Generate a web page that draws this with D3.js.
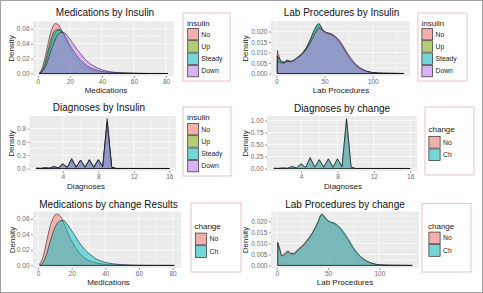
<!DOCTYPE html>
<html>
<head>
<meta charset="utf-8">
<script src="https://cdn.jsdelivr.net/npm/d3@7"></script>
<style>
  body { margin: 0; background: #fff; }
  svg { display: block; }
  text { font-family: "Liberation Sans", Arial, sans-serif; }
</style>
</head>
<body>
<svg id="chart" width="483" height="293"></svg>
<script>
// ---- data ----
var insulinLevels = ["No", "Up", "Steady", "Down"];
var changeLevels = ["No", "Ch"];

var medX = [1, 3, 5, 7, 9, 11, 13, 15, 17, 19, 22, 25, 28, 31, 35, 40, 45, 50, 55, 60, 65, 70, 75, 81];
var medInsulinNo     = [0.001, 0.009, 0.026, 0.046, 0.061, 0.067, 0.065, 0.057, 0.047, 0.037, 0.025, 0.016, 0.010, 0.006, 0.003, 0.0015, 0.0007, 0.0003, 0.0002, 0.0001, 0, 0, 0, 0];
var medInsulinUp     = [0.000, 0.004, 0.014, 0.030, 0.045, 0.055, 0.058, 0.056, 0.050, 0.042, 0.031, 0.022, 0.015, 0.010, 0.006, 0.003, 0.0015, 0.0008, 0.0004, 0.0002, 0.0001, 0.0001, 0.0001, 0];
var medInsulinSteady = [0.000, 0.005, 0.018, 0.036, 0.051, 0.058, 0.059, 0.057, 0.050, 0.041, 0.030, 0.021, 0.014, 0.009, 0.005, 0.0025, 0.0012, 0.0006, 0.0003, 0.0002, 0.0001, 0, 0, 0];
var medInsulinDown   = [0.000, 0.003, 0.010, 0.022, 0.035, 0.046, 0.053, 0.055, 0.054, 0.049, 0.040, 0.031, 0.023, 0.016, 0.010, 0.005, 0.0025, 0.0012, 0.0006, 0.0003, 0.0001, 0, 0, 0];
var medChangeNo = [0.002, 0.011, 0.030, 0.049, 0.061, 0.066, 0.064, 0.056, 0.046, 0.036, 0.024, 0.015, 0.009, 0.0055, 0.003, 0.0013, 0.0006, 0.0003, 0.0001, 0.0001, 0, 0, 0, 0];
var medChangeCh = [0.000, 0.004, 0.014, 0.029, 0.043, 0.053, 0.057, 0.058, 0.054, 0.048, 0.038, 0.028, 0.020, 0.014, 0.008, 0.004, 0.002, 0.001, 0.0005, 0.0002, 0.0001, 0, 0, 0];

var labX = [1, 3, 5, 8, 11, 14, 17, 20, 25, 30, 35, 40, 44, 48, 52, 56, 60, 65, 70, 75, 80, 85, 90, 95, 100, 110, 120, 132];
var labInsulinNo     = [0.0110, 0.0080, 0.0055, 0.0050, 0.0065, 0.0058, 0.0058, 0.0068, 0.0085, 0.0110, 0.0145, 0.0190, 0.0225, 0.0205, 0.0192, 0.0187, 0.0176, 0.0150, 0.0115, 0.0078, 0.0050, 0.0030, 0.0016, 0.0008, 0.0004, 0.0001, 0.00005, 0];
var labInsulinUp     = [0.0085, 0.0070, 0.0060, 0.0055, 0.0060, 0.0058, 0.0060, 0.0070, 0.0088, 0.0115, 0.0160, 0.0210, 0.0235, 0.0210, 0.0195, 0.0190, 0.0180, 0.0155, 0.0120, 0.0080, 0.0050, 0.0030, 0.0016, 0.0008, 0.0004, 0.0001, 0.00005, 0];
var labInsulinSteady = [0.0080, 0.0068, 0.0058, 0.0053, 0.0058, 0.0056, 0.0058, 0.0068, 0.0088, 0.0115, 0.0160, 0.0215, 0.0238, 0.0205, 0.0190, 0.0185, 0.0175, 0.0150, 0.0115, 0.0078, 0.0048, 0.0028, 0.0015, 0.0007, 0.0003, 0.0001, 0.00005, 0];
var labInsulinDown   = [0.0055, 0.0055, 0.0050, 0.0050, 0.0058, 0.0058, 0.0060, 0.0070, 0.0085, 0.0108, 0.0145, 0.0190, 0.0215, 0.0205, 0.0195, 0.0190, 0.0180, 0.0160, 0.0125, 0.0088, 0.0057, 0.0034, 0.0019, 0.0010, 0.0005, 0.0001, 0.00005, 0];
var labChangeNo = [0.0105, 0.0075, 0.0045, 0.0055, 0.0065, 0.0055, 0.0055, 0.0070, 0.0090, 0.0118, 0.0150, 0.0195, 0.0232, 0.0210, 0.0195, 0.0190, 0.0175, 0.0145, 0.0110, 0.0072, 0.0045, 0.0026, 0.0014, 0.0007, 0.0003, 0.0001, 0.00005, 0];
var labChangeCh = [0.0103, 0.0072, 0.0043, 0.0050, 0.0060, 0.0052, 0.0052, 0.0066, 0.0086, 0.0112, 0.0148, 0.0195, 0.0233, 0.0212, 0.0198, 0.0193, 0.0180, 0.0153, 0.0118, 0.0079, 0.0049, 0.0028, 0.0015, 0.0007, 0.0003, 0.0001, 0.00005, 0];

var diagX = [1, 1.5, 2, 2.5, 3, 3.5, 4, 4.5, 5, 5.5, 6, 6.5, 7, 7.5, 8, 8.5, 9, 9.5, 10, 11, 12, 13, 14, 15, 16];
var diagInsulinNo     = [0.005, 0.002, 0.010, 0.004, 0.035, 0.010, 0.090, 0.020, 0.190, 0.025, 0.180, 0.025, 0.190, 0.025, 0.190, 0.040, 1.130, 0.030, 0.001, 0.0005, 0.0003, 0.0002, 0.0002, 0.0001, 0.0001];
var diagInsulinUp     = [0.004, 0.002, 0.012, 0.005, 0.040, 0.012, 0.100, 0.022, 0.200, 0.026, 0.190, 0.026, 0.200, 0.026, 0.200, 0.040, 1.050, 0.030, 0.001, 0.0005, 0.0003, 0.0002, 0.0002, 0.0001, 0.0001];
var diagInsulinSteady = [0.006, 0.002, 0.014, 0.006, 0.045, 0.013, 0.110, 0.025, 0.230, 0.027, 0.190, 0.026, 0.200, 0.025, 0.200, 0.040, 1.020, 0.030, 0.001, 0.0005, 0.0003, 0.0002, 0.0002, 0.0001, 0.0001];
var diagInsulinDown   = [0.004, 0.002, 0.012, 0.005, 0.040, 0.012, 0.100, 0.022, 0.210, 0.026, 0.190, 0.026, 0.190, 0.025, 0.190, 0.040, 1.080, 0.030, 0.001, 0.0005, 0.0003, 0.0002, 0.0002, 0.0001, 0.0001];
var diagChangeNo = [0.005, 0.002, 0.011, 0.005, 0.038, 0.012, 0.095, 0.022, 0.220, 0.026, 0.180, 0.026, 0.200, 0.026, 0.200, 0.040, 1.020, 0.030, 0.001, 0.0005, 0.0003, 0.0002, 0.0002, 0.0001, 0.0001];
var diagChangeCh = [0.005, 0.002, 0.012, 0.005, 0.040, 0.012, 0.100, 0.022, 0.230, 0.026, 0.185, 0.026, 0.200, 0.026, 0.200, 0.040, 1.040, 0.030, 0.001, 0.0005, 0.0003, 0.0002, 0.0002, 0.0001, 0.0001];

var medTicks = [0, 20, 40, 60, 80];
var labTicks = [0, 50, 100];
var diagTicks = [4, 8, 12, 16];
var medDensityTicks = [0, 0.02, 0.04, 0.06];
var labDensityTicks = [0, 0.005, 0.01, 0.015, 0.02];
var diagInsulinDensityTicks = [0, 0.3, 0.6, 0.9];
var diagChangeDensityTicks = [0, 0.25, 0.5, 0.75, 1.0];

// ggplot default hue colours
var insulinColors = ["#F8766D", "#7CAE00", "#00BFC4", "#C77CFF"];
var changeColors = ["#F8766D", "#00BFC4"];

var svg = d3.select("#chart");

svg.append("rect").attr("x", 0.5).attr("y", 0.5).attr("width", 482).attr("height", 292)
    .attr("fill", "#fff").attr("stroke", "#a0a0a0").attr("stroke-width", 1);

// midpoints between major breaks that fall inside the domain
function minorBreaks(ticks, domain) {
    var step = ticks[1] - ticks[0], out = [];
    for (var v = ticks[0] - step / 2; v <= domain[1]; v += step) {
        if (v >= domain[0]) out.push(v);
    }
    return out;
}

function drawPanel(p) {
    var g = svg.append("g");
    var b = p.box;
    var xExt = d3.extent(p.xs), xr = xExt[1] - xExt[0];
    var x = d3.scaleLinear().domain([xExt[0] - 0.05 * xr, xExt[1] + 0.05 * xr]).range([b[0], b[2]]);
    var maxY = d3.max(p.series, function(s) { return d3.max(s); });
    var y = d3.scaleLinear().domain([-0.05 * maxY, 1.05 * maxY]).range([b[3], b[1]]);

    g.append("rect").attr("x", b[0]).attr("y", b[1]).attr("width", b[2] - b[0]).attr("height", b[3] - b[1])
        .attr("fill", "#EBEBEB");

    var grid = g.append("g").attr("stroke", "#fff");
    minorBreaks(p.xTicks, x.domain()).forEach(function(v) {
        grid.append("line").attr("x1", x(v)).attr("x2", x(v)).attr("y1", b[1]).attr("y2", b[3]).attr("stroke-width", 0.35);
    });
    minorBreaks(p.yTicks, y.domain()).forEach(function(v) {
        grid.append("line").attr("y1", y(v)).attr("y2", y(v)).attr("x1", b[0]).attr("x2", b[2]).attr("stroke-width", 0.35);
    });
    p.xTicks.forEach(function(v) {
        grid.append("line").attr("x1", x(v)).attr("x2", x(v)).attr("y1", b[1]).attr("y2", b[3]).attr("stroke-width", 0.7);
    });
    p.yTicks.forEach(function(v) {
        grid.append("line").attr("y1", y(v)).attr("y2", y(v)).attr("x1", b[0]).attr("x2", b[2]).attr("stroke-width", 0.7);
    });

    var area = d3.area()
        .x(function(d, i) { return x(p.xs[i]); })
        .y0(y(0))
        .y1(function(d) { return y(d); })
        .curve(p.curve);

    p.series.forEach(function(s, i) {
        g.append("path").attr("d", area(s))
            .attr("fill", p.colors[i]).attr("fill-opacity", 0.5)
            .attr("stroke", "#111").attr("stroke-width", 0.55).attr("stroke-linejoin", "round");
    });

    var xAxis = g.append("g").attr("transform", "translate(0," + b[3] + ")")
        .call(d3.axisBottom(x).tickValues(p.xTicks).tickFormat(d3.format("d")).tickSize(2).tickPadding(1.5));
    var yAxis = g.append("g").attr("transform", "translate(" + b[0] + ",0)")
        .call(d3.axisLeft(y).tickValues(p.yTicks).tickFormat(d3.format(p.yFormat)).tickSize(2).tickPadding(1.5));
    [xAxis, yAxis].forEach(function(a) {
        a.select(".domain").remove();
        a.selectAll(".tick line").attr("stroke", "#333").attr("stroke-width", 0.5);
        a.selectAll(".tick text").attr("fill", "#6b6b6b").attr("font-size", 6.5)
            .attr("font-family", "'Liberation Sans', Arial, sans-serif");
    });

    g.append("text").attr("x", p.title[0]).attr("y", p.title[1]).attr("text-anchor", "middle")
        .attr("font-size", 10).attr("fill", "#111").text(p.titleText);
    g.append("text").attr("x", p.xlab[0]).attr("y", p.xlab[1]).attr("text-anchor", "middle")
        .attr("font-size", 8).attr("fill", "#222").text(p.xlabText);
    g.append("text").attr("transform", "translate(" + p.ylab[0] + "," + p.ylab[1] + ") rotate(-90)")
        .attr("text-anchor", "middle").attr("dy", "0.35em")
        .attr("font-size", 8).attr("fill", "#222").text("Density");

    drawLegend(p.legend, p.legendTitle, p.levels, p.colors);
}

function drawLegend(L, title, levels, colors) {
    var g = svg.append("g");
    g.append("rect").attr("x", L.box[0]).attr("y", L.box[1])
        .attr("width", L.box[2] - L.box[0]).attr("height", L.box[3] - L.box[1])
        .attr("fill", "#fff").attr("stroke", "#E6BCC0").attr("stroke-width", 0.9);
    g.append("text").attr("x", L.title[0]).attr("y", L.title[1])
        .attr("font-size", 8).attr("fill", "#222").text(title);
    levels.forEach(function(lv, i) {
        var ky = L.keyY + i * L.keyH;
        g.append("rect").attr("x", L.keyX).attr("y", ky).attr("width", L.keyW).attr("height", L.keyH)
            .attr("fill", "#EBEBEB");
        g.append("rect").attr("x", L.keyX + 0.4).attr("y", ky + 0.4).attr("width", L.keyW - 0.8).attr("height", L.keyH - 0.8)
            .attr("fill", colors[i]).attr("fill-opacity", 0.5)
            .attr("stroke", "#333").attr("stroke-width", 0.7);
        g.append("text").attr("x", L.keyX + L.keyW + 2.5).attr("y", ky + L.keyH / 2).attr("dy", "0.35em")
            .attr("font-size", 6.8).attr("fill", "#222").text(lv);
    });
}

var panels = [
    {
        titleText: "Medications by Insulin", xlabText: "Medications",
        xs: medX, series: [medInsulinNo, medInsulinUp, medInsulinSteady, medInsulinDown],
        levels: insulinLevels, colors: insulinColors, legendTitle: "insulin",
        xTicks: medTicks, yTicks: medDensityTicks, yFormat: ".2f", curve: d3.curveMonotoneX,
        box: [33, 21, 174, 76], title: [105, 16], xlab: [106, 93], ylab: [11, 48.5],
        legend: { box: [183, 13, 230, 81], title: [187, 25.5], keyX: 187.3, keyY: 28, keyW: 11.5, keyH: 12.3 }
    },
    {
        titleText: "Lab Procedures by Insulin", xlabText: "Lab Procedures",
        xs: labX, series: [labInsulinNo, labInsulinUp, labInsulinSteady, labInsulinDown],
        levels: insulinLevels, colors: insulinColors, legendTitle: "insulin",
        xTicks: labTicks, yTicks: labDensityTicks, yFormat: ".3f", curve: d3.curveMonotoneX,
        box: [271, 21, 410, 76], title: [341.5, 16], xlab: [341, 93], ylab: [245, 48.5],
        legend: { box: [418, 13, 467, 81], title: [421.5, 25.5], keyX: 421.5, keyY: 28, keyW: 11.5, keyH: 12.3 }
    },
    {
        titleText: "Diagnoses by Insulin", xlabText: "Diagnoses",
        xs: diagX, series: [diagInsulinNo, diagInsulinUp, diagInsulinSteady, diagInsulinDown],
        levels: insulinLevels, colors: insulinColors, legendTitle: "insulin",
        xTicks: diagTicks, yTicks: diagInsulinDensityTicks, yFormat: ".1f", curve: d3.curveLinear,
        box: [29.5, 116, 176, 171], title: [99, 111], xlab: [86, 188.5], ylab: [11, 143.5],
        legend: { box: [183, 107, 231, 176], title: [187, 120], keyX: 187.3, keyY: 123, keyW: 11.5, keyH: 12.3 }
    },
    {
        titleText: "Diagnoses by change", xlabText: "Diagnoses",
        xs: diagX, series: [diagChangeNo, diagChangeCh],
        levels: changeLevels, colors: changeColors, legendTitle: "change",
        xTicks: diagTicks, yTicks: diagChangeDensityTicks, yFormat: ".2f", curve: d3.curveLinear,
        box: [267, 116, 417, 171], title: [342, 111.5], xlab: [343, 188.5], ylab: [245, 143.5],
        legend: { box: [425, 107, 474, 175], title: [428.5, 132], keyX: 428.5, keyY: 136, keyW: 12, keyH: 12.5 }
    },
    {
        titleText: "Medications by change Results", xlabText: "Medications",
        xs: medX, series: [medChangeNo, medChangeCh],
        levels: changeLevels, colors: changeColors, legendTitle: "change",
        xTicks: medTicks, yTicks: medDensityTicks, yFormat: ".2f", curve: d3.curveMonotoneX,
        box: [33, 211.5, 181, 268], title: [108.5, 208], xlab: [108.5, 284.5], ylab: [12, 240],
        legend: { box: [191, 203, 241, 272], title: [194.5, 228.5], keyX: 195, keyY: 232.7, keyW: 12, keyH: 12.6 }
    },
    {
        titleText: "Lab Procedures by change", xlabText: "Lab Procedures",
        xs: labX, series: [labChangeNo, labChangeCh],
        levels: changeLevels, colors: changeColors, legendTitle: "change",
        xTicks: labTicks, yTicks: labDensityTicks, yFormat: ".3f", curve: d3.curveMonotoneX,
        box: [271, 211.5, 419, 268], title: [345, 208], xlab: [345, 284.5], ylab: [245, 240],
        legend: { box: [422, 203.5, 471, 272], title: [428, 228.5], keyX: 428.5, keyY: 231.7, keyW: 12, keyH: 12.5 }
    }
];

panels.forEach(drawPanel);
</script>
</body>
</html>
